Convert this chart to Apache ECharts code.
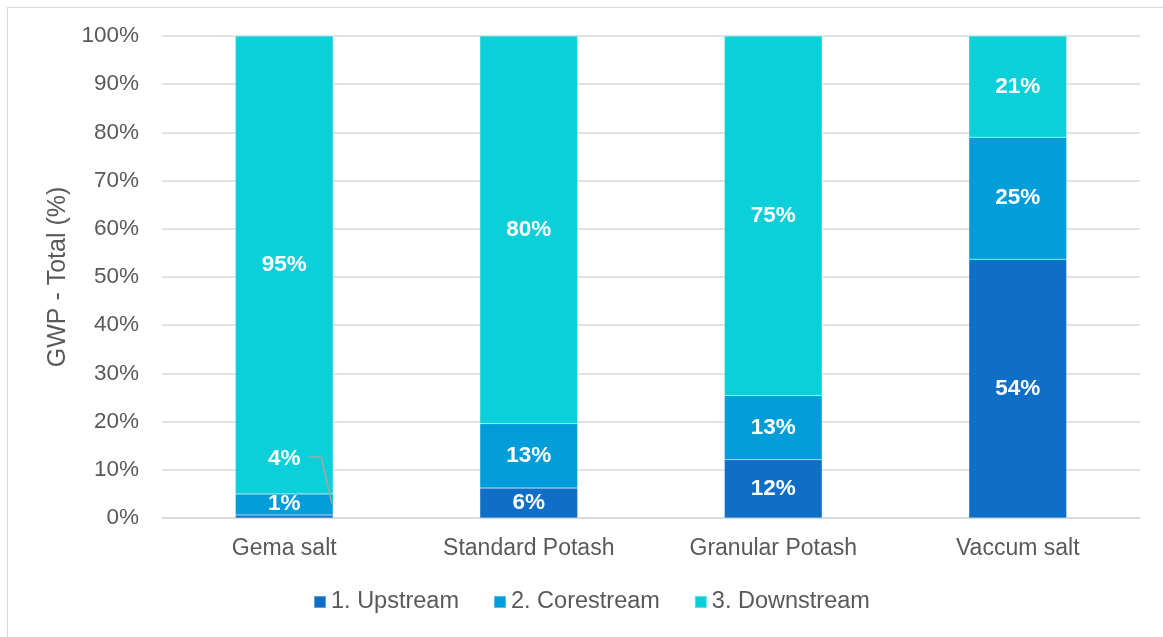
<!DOCTYPE html>
<html>
<head>
<meta charset="utf-8">
<script src="https://cdn.jsdelivr.net/npm/echarts@6/dist/echarts.min.js"></script>
<style>
  html, body { margin: 0; padding: 0; background: #fff; }
  #chart { width: 1163px; height: 637px; position: absolute; left: 0; top: 0; }
  #frame { position: absolute; left: 7px; top: 7px; width: 1200px; height: 700px;
           border-left: 1.5px solid #d9d9d9; border-top: 1.5px solid #d9d9d9; pointer-events: none; }
</style>
</head>
<body>
<div id="chart"></div>
<div id="frame"></div>
<script>
const categories = ['Gema salt', 'Standard Potash', 'Granular Potash', 'Vaccum salt'];
const seriesNames = ['1. Upstream', '2. Corestream', '3. Downstream'];
const upstream = [0.6, 6.2, 12.1, 53.7];
const corestream = [4.4, 13.4, 13.3, 25.3];
const downstream = [95.0, 80.4, 74.6, 21.0];
const yTicks = [0, 10, 20, 30, 40, 50, 60, 70, 80, 90, 100];

const colors = ['#0F6FC6', '#009DD9', '#0BD0D9'];
const FONT = '"Liberation Sans", Arial, sans-serif';
const TXT = '#595959';
const BAR_FRAC = 0.4;

const chart = echarts.init(document.getElementById('chart'), null, { renderer: 'canvas' });

const labelCommon = {
  show: true,
  position: 'inside',
  color: '#ffffff',
  fontWeight: 'bold',
  fontSize: 22.5,
  fontFamily: FONT,
  formatter: p => Math.round(typeof p.value === 'object' ? p.value.value : p.value) + '%'
};

function mkSeries(name, data, idx) {
  return {
    name: name,
    type: 'bar',
    stack: 'total',
    barWidth: (BAR_FRAC * 100) + '%',
    data: data,
    itemStyle: { color: colors[idx], borderColor: 'rgba(255,255,255,0.35)', borderWidth: 0.5 },
    label: Object.assign({}, labelCommon),
    emphasis: { disabled: true }
  };
}

const upSeries = mkSeries(seriesNames[0], upstream, 0);
upSeries.labelLayout = function (p) { if (p.dataIndex === 0) return { dy: -13 }; return {}; };

const coreSeries = mkSeries(seriesNames[1], corestream, 1);
coreSeries.labelLayout = function (p) { if (p.dataIndex === 0) return { dy: -46 }; return {}; };

const downSeries = mkSeries(seriesNames[2], downstream, 2);

// leader line for the moved "4%" label of Gema salt corestream segment
const leaderSeries = {
  type: 'custom',
  name: 'leader',
  silent: true,
  z: 5,
  data: [[0, upstream[0] + corestream[0] / 2]],
  renderItem: function (params, api) {
    const c = api.coord([api.value(0), api.value(1)]);
    const catW = api.size([1, 0])[0];
    const right = c[0] + catW * BAR_FRAC / 2;
    const ly = c[1] - 47.5;
    return {
      type: 'polyline',
      shape: { points: [[c[0] + 25, ly], [right - 12, ly], [right - 1, c[1]]] },
      style: { stroke: '#a6a6a6', lineWidth: 1.5, fill: null }
    };
  }
};

chart.setOption({
  animation: false,
  backgroundColor: 'transparent',
  textStyle: { fontFamily: FONT },
  grid: { left: 162, right: 23, top: 36, bottom: 119, containLabel: false },
  legend: {
    data: seriesNames,
    bottom: 18,
    left: 308,
    itemWidth: 12,
    itemHeight: 12,
    itemGap: 34,
    icon: 'rect',
    textStyle: { color: TXT, fontSize: 23.5, fontFamily: FONT }
  },
  xAxis: {
    type: 'category',
    data: categories,
    axisLine: { show: true, lineStyle: { color: '#d9d9d9', width: 1.5 } },
    axisTick: { show: false },
    axisLabel: { color: TXT, fontSize: 23, fontFamily: FONT, margin: 19 }
  },
  yAxis: {
    type: 'value',
    min: yTicks[0],
    max: yTicks[yTicks.length - 1],
    interval: 10,
    name: 'GWP - Total (%)',
    nameLocation: 'middle',
    nameGap: 87,
    nameRotate: 90,
    nameTextStyle: { color: TXT, fontSize: 25, fontFamily: FONT },
    axisLine: { show: false },
    axisTick: { show: false },
    splitLine: { lineStyle: { color: '#d9d9d9', width: 1.5 } },
    axisLabel: { color: TXT, fontSize: 22.5, fontFamily: FONT, margin: 23, formatter: v => v + '%' }
  },
  series: [upSeries, coreSeries, downSeries, leaderSeries]
});
</script>
</body>
</html>
